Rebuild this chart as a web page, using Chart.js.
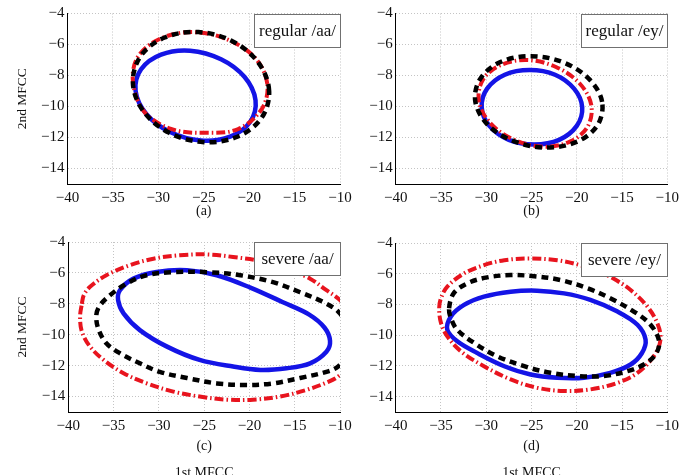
<!DOCTYPE html>
<html>
<head>
<meta charset="utf-8">
<script src="https://cdn.jsdelivr.net/npm/chart.js@4.4.0/dist/chart.umd.min.js"></script>
<style>
  html, body { margin: 0; padding: 0; background: #fff; overflow: hidden; }
  #wrap { position: relative; width: 688px; height: 475px; overflow: hidden; }
  #wrap canvas { position: absolute; left: 0; top: 0; }
</style>
</head>
<body>
<div id="wrap">
  <canvas id="pa" width="688" height="500"></canvas>
  <canvas id="pb" width="688" height="500"></canvas>
  <canvas id="pc" width="688" height="500"></canvas>
  <canvas id="pd" width="688" height="500"></canvas>
</div>
<script>
// axis ticks and labels
const xTicks = [-40, -35, -30, -25, -20, -15, -10];
const yTicks = [-14, -12, -10, -8, -6, -4];
const panelNames = ['regular /aa/', 'regular /ey/', 'severe /aa/', 'severe /ey/'];
const panelTags = ['(a)', '(b)', '(c)', '(d)'];

// contour points [1st MFCC, 2nd MFCC]
// (a) regular /aa/
const aBlue = [[-19.3,-9.6],[-20.5,-8.1],[-23.1,-6.95],[-26.5,-6.4],[-29.7,-6.65],[-31.9,-7.6],[-32.5,-9.0],[-31.3,-10.5],[-28.7,-11.65],[-25.3,-12.2],[-22.1,-11.95],[-19.9,-11.0]];
const aRed = [[-18.0,-8.55],[-19.3,-6.9],[-22.3,-5.7],[-26.1,-5.2],[-29.7,-5.6],[-32.2,-6.75],[-32.8,-8.35],[-31.6,-10.3],[-28.6,-11.45],[-24.7,-11.7],[-21.2,-11.45],[-18.6,-10.15]];
const aBlack = [[-17.8,-9.0],[-18.95,-7.2],[-21.8,-5.8],[-25.6,-5.2],[-29.3,-5.55],[-31.95,-6.75],[-32.8,-8.5],[-31.65,-10.3],[-28.8,-11.7],[-25.0,-12.3],[-21.3,-11.95],[-18.65,-10.75]];
// (b) regular /ey/
const bBlue = [[-19.4,-10.05],[-20.3,-8.85],[-22.4,-7.95],[-25.2,-7.65],[-27.95,-7.95],[-29.9,-8.85],[-30.5,-10.05],[-29.65,-11.25],[-27.5,-12.15],[-24.7,-12.45],[-21.95,-12.15],[-20.0,-11.25]];
const bRed = [[-18.4,-9.9],[-19.7,-8.5],[-22.3,-7.45],[-25.5,-7.0],[-28.5,-7.35],[-30.4,-8.3],[-30.8,-9.7],[-29.5,-11.1],[-26.9,-12.15],[-23.7,-12.6],[-20.7,-12.25],[-18.8,-11.3]];
const bBlack = [[-17.2,-9.7],[-18.6,-8.25],[-21.5,-7.15],[-25.1,-6.75],[-28.5,-7.15],[-30.7,-8.25],[-31.2,-9.7],[-29.8,-11.2],[-26.9,-12.25],[-23.3,-12.65],[-19.9,-12.25],[-17.7,-11.2]];
// (c) severe /aa/
const cBlue = [[-34.5,-7.76],[-34.3,-7.12],[-32.8,-6.37],[-30.25,-5.94],[-26.9,-5.83],[-23.6,-6.15],[-19.9,-6.95],[-16.3,-7.9],[-13.4,-8.7],[-11.7,-9.55],[-11.1,-10.4],[-11.5,-11.1],[-13.3,-11.85],[-15.9,-12.17],[-18.8,-12.28],[-21.8,-12.06],[-25.5,-11.63],[-29.1,-10.77],[-32.1,-9.7],[-33.9,-8.62]];
const cRed = [[-38.5,-8.0],[-38.3,-7.45],[-37.6,-6.9],[-35.8,-6.15],[-33.2,-5.5],[-30.6,-5.08],[-27.7,-4.86],[-24.7,-4.8],[-21.8,-4.97],[-18.1,-5.3],[-15.5,-5.83],[-13.3,-6.37],[-11.5,-7.12],[-10.2,-7.66],[-8.7,-8.6],[-7.9,-10.2],[-8.6,-11.8],[-10.2,-12.7],[-11.3,-13.05],[-13.7,-13.57],[-16.6,-14.0],[-19.6,-14.2],[-22.5,-14.2],[-25.5,-14.0],[-28.4,-13.68],[-31.35,-13.14],[-33.9,-12.49],[-36.1,-11.63],[-37.6,-10.77],[-38.5,-9.8],[-38.7,-8.84]];
const cBlack = [[-36.9,-8.7],[-36.5,-8.1],[-35.4,-7.45],[-33.6,-6.7],[-31.35,-6.15],[-28.4,-5.95],[-24.7,-5.95],[-21.0,-6.15],[-17.4,-6.6],[-14.4,-7.25],[-11.8,-7.9],[-10.2,-8.5],[-9.3,-9.3],[-9.0,-10.3],[-9.4,-11.4],[-10.2,-12.05],[-11.5,-12.4],[-14.4,-12.8],[-17.4,-13.15],[-20.3,-13.25],[-23.6,-13.15],[-26.9,-12.8],[-29.9,-12.4],[-32.1,-11.85],[-34.3,-11.2],[-35.8,-10.55],[-36.7,-9.6]];
// (d) severe /ey/
const dBlue = [[-34.3,-9.65],[-33.9,-8.78],[-32.45,-8.03],[-30.25,-7.49],[-27.3,-7.17],[-24.4,-7.1],[-21.4,-7.28],[-18.5,-7.7],[-15.5,-8.46],[-13.3,-9.32],[-12.4,-10.29],[-12.8,-11.16],[-14.05,-11.91],[-16.3,-12.45],[-19.2,-12.77],[-22.15,-12.77],[-25.1,-12.56],[-28.0,-12.02],[-31.0,-11.16],[-33.2,-10.4]];
const dRed = [[-35.2,-8.25],[-35.0,-7.6],[-34.3,-6.84],[-32.45,-5.98],[-30.25,-5.44],[-28.0,-5.12],[-25.1,-5.01],[-22.15,-5.12],[-19.6,-5.45],[-17.8,-5.8],[-16.0,-6.3],[-14.05,-7.06],[-12.2,-8.14],[-11.1,-9.22],[-10.75,-10.29],[-11.5,-11.37],[-13.3,-12.45],[-15.5,-13.1],[-18.5,-13.53],[-21.4,-13.63],[-24.4,-13.42],[-27.3,-12.88],[-30.25,-12.02],[-32.8,-11.05],[-34.3,-10.08],[-35.0,-9.2]];
const dBlack = [[-34.1,-8.25],[-33.6,-7.28],[-32.1,-6.63],[-29.9,-6.24],[-27.3,-6.09],[-24.7,-6.16],[-21.8,-6.41],[-18.8,-6.95],[-16.3,-7.6],[-13.7,-8.46],[-11.85,-9.32],[-10.9,-10.4],[-11.3,-11.26],[-12.6,-11.91],[-14.4,-12.34],[-17.0,-12.66],[-19.9,-12.66],[-22.9,-12.45],[-25.8,-12.02],[-28.8,-11.37],[-31.35,-10.5],[-33.2,-9.65],[-33.9,-8.9]];

const serif = "'Liberation Serif', 'Times New Roman', serif";
Chart.defaults.font.family = serif;
Chart.defaults.color = '#111';

const fmt = v => String(v).replace('-', '\u2212');

// make each contour a closed smooth loop
const closeLoops = {
  id: 'closeLoops',
  beforeDatasetsDraw(chart) {
    chart.data.datasets.forEach((d, i) => {
      const line = chart.getDatasetMeta(i).dataset;
      if (!line) return;
      line._loop = true;
      line._fullLoop = true;
      line._pointsUpdated = false;
      delete line._segments;
      delete line._path;
    });
  }
};

// boxed panel name in the top right corner
const tagBox = {
  id: 'tagBox',
  afterDatasetsDraw(chart, args, opts) {
    const { ctx, chartArea: a } = chart;
    const w = 86, h = 33;
    const x = Math.round(a.right - w) + 0.5, y = Math.round(a.top) + 0.5;
    ctx.save();
    ctx.fillStyle = '#fff';
    ctx.fillRect(x, y, w, h);
    ctx.strokeStyle = '#707070';
    ctx.lineWidth = 1;
    ctx.strokeRect(x, y, w, h);
    ctx.font = '17px ' + serif;
    ctx.fillStyle = '#111';
    ctx.textAlign = 'center';
    ctx.textBaseline = 'middle';
    ctx.fillText(opts.text, x + w / 2, y + h / 2 + 1);
    ctx.restore();
  }
};

function contour(points, color, width, dash) {
  return {
    data: points.map(([x, y]) => ({ x, y })),
    borderColor: color,
    borderWidth: width,
    borderDash: dash,
    pointRadius: 0,
    tension: 0.35,
    capBezierPoints: false,
    fill: false,
    clip: 0
  };
}

function makePanel(id, idx, blue, red, black, p) {
  new Chart(document.getElementById(id), {
    type: 'line',
    data: {
      datasets: [
        contour(black, '#000000', 4.5, [7, 5]),
        contour(red, '#e8141e', 4, [9, 3, 1.5, 3]),
        contour(blue, '#1414e6', 4.5, [])
      ]
    },
    plugins: [closeLoops, tagBox],
    options: {
      responsive: false,
      animation: false,
      events: [],
      layout: { padding: { left: p.pl, top: p.pt, right: p.pr, bottom: p.pb } },
      plugins: {
        legend: { display: false },
        tooltip: { enabled: false },
        tagBox: { text: panelNames[idx] }
      },
      scales: {
        x: {
          type: 'linear',
          min: -40,
          max: -10,
          afterBuildTicks: s => { s.ticks = xTicks.map(v => ({ value: v })); },
          afterFit: s => { s.height = p.xh; },
          ticks: { padding: 5, font: { size: 15 }, callback: fmt, maxRotation: 0, autoSkip: false },
          grid: { color: '#c4c4c4', lineWidth: 1, drawTicks: false },
          border: { color: '#000', width: 1, dash: [1, 2] },
          title: {
            display: true,
            text: p.xTitle,
            font: { size: 14, lineHeight: p.lh },
            padding: { top: 0, bottom: 0 }
          }
        },
        y: {
          type: 'linear',
          min: -15,
          max: -4,
          afterBuildTicks: s => { s.ticks = yTicks.map(v => ({ value: v })); },
          afterFit: s => { s.width = p.yw; },
          ticks: { padding: 3, font: { size: 15 }, callback: fmt, autoSkip: false },
          grid: { color: '#c4c4c4', lineWidth: 1, drawTicks: false },
          border: { color: '#000', width: 1, dash: [1, 2] },
          title: {
            display: !!p.yTitle,
            text: p.yTitle || '',
            font: { size: 13.5 },
            padding: { top: 14, bottom: 0 }
          }
        }
      }
    }
  });
}

makePanel('pa', 0, aBlue, aRed, aBlack,
  { pl: 0, yw: 67.5, pt: 13.5, pr: 348, xh: 39, pb: 277, lh: '24px', xTitle: panelTags[0], yTitle: '2nd MFCC' });
makePanel('pb', 1, bBlue, bRed, bBlack,
  { pl: 345.7, yw: 50, pt: 13.5, pr: 20.7, xh: 39, pb: 277, lh: '24px', xTitle: panelTags[1] });
makePanel('pc', 2, cBlue, cRed, cBlack,
  { pl: 0, yw: 68.3, pt: 242, pr: 348, xh: 75.2, pb: 12.8, lh: '27px', xTitle: [panelTags[2], '1st MFCC'], yTitle: '2nd MFCC' });
makePanel('pd', 3, dBlue, dRed, dBlack,
  { pl: 345.7, yw: 50, pt: 243, pr: 20.7, xh: 75.2, pb: 12.8, lh: '27px', xTitle: [panelTags[3], '1st MFCC'] });
</script>
</body>
</html>
